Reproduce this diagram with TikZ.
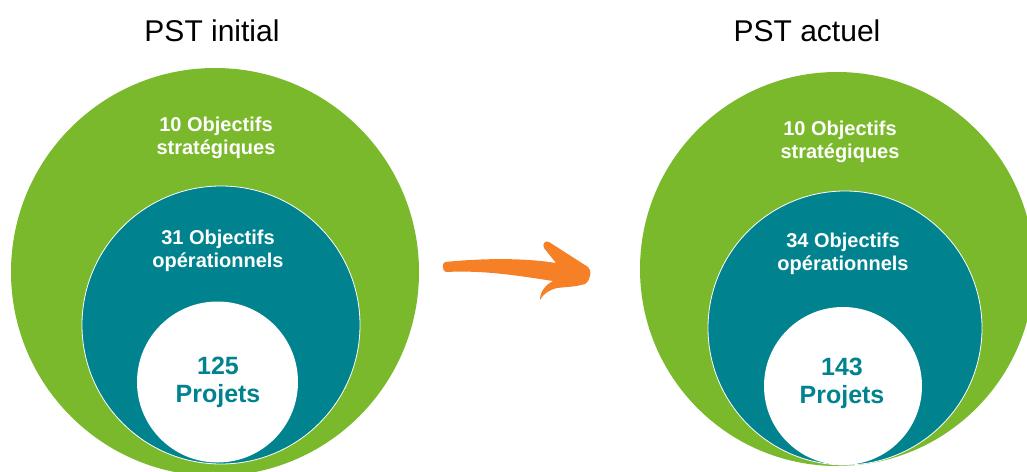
\documentclass[tikz,border=0pt]{standalone}
\usepackage{fontspec}
\setmainfont{Liberation Sans}
\usepackage{xcolor}
\usetikzlibrary{positioning}
\definecolor{leaf}{HTML}{7AB92B}
\definecolor{petrol}{HTML}{01838F}
\definecolor{flame}{HTML}{F58025}
\tikzset{
  disc/.style={circle,inner sep=0pt,outer sep=0pt},
  outerdisc/.style={disc,fill=leaf},
  middisc/.style={disc,fill=petrol,draw=white,line width=0.8pt},
  coredisc/.style={disc,fill=white},
  lab/.style={font=\fontsize{20}{23}\selectfont\bfseries,text=white,align=center,inner sep=0pt},
  num/.style={font=\fontsize{25}{28}\selectfont\bfseries,text=petrol,align=center,inner sep=0pt},
  head/.style={font=\fontsize{30}{36}\selectfont,anchor=base,inner sep=0pt},
}
\begin{document}
\begin{tikzpicture}[x=1pt,y=-1pt]
\useasboundingbox (0,0) rectangle (1027,471);
\clip (0,0) rectangle (1027,471);
% left: initial plan
\node[head] (titleL) at (212,41) {PST initial};
\node[outerdisc,minimum size=408pt] (outerL) at (215,272) {};
\node[middisc,minimum size=278pt] (midL) at (221,325) {};
\node[coredisc,minimum size=161pt] (coreL) at (217.5,382) {};
\node[lab] (stratL) at (216,138) {10 Objectifs\\stratégiques};
\node[lab] (operL) at (218,251) {31 Objectifs\\opérationnels};
\node[num] (projL) at (218,382) {125\\Projets};

% right: current plan
\node[head] (titleR) at (807,41) {PST actuel};
\node[outerdisc,minimum size=394pt] (outerR) at (837,269) {};
\node[middisc,minimum size=274pt] (midR) at (845,328) {};
\node[coredisc,minimum size=158pt] (coreR) at (843,386) {};
\node[lab] (stratR) at (840,142) {10 Objectifs\\stratégiques};
\node[lab] (operR) at (843,254) {34 Objectifs\\opérationnels};
\node[num] (projR) at (842,383) {143\\Projets};

% brush arrow
\fill[flame] (445,262) .. controls (485,258) and (525,258) .. (556,263)
  -- (544,248) .. controls (542,244) and (545,240) .. (549,242)
  -- (588,267) .. controls (592,270) and (591,280) .. (585,284)
  .. controls (575,287) and (565,287) .. (557,288)
  .. controls (549,290) and (543,294) .. (540,300)
  .. controls (540,292) and (545,285) .. (553,281)
  .. controls (520,276) and (485,270) .. (446,272)
  .. controls (442,271) and (442,263) .. (445,262) -- cycle;
\end{tikzpicture}
\end{document}
